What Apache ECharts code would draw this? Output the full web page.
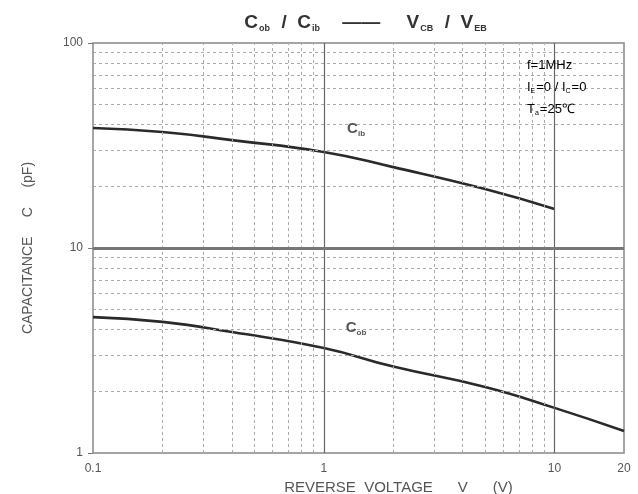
<!DOCTYPE html>
<html><head><meta charset="utf-8">
<script src="https://cdn.jsdelivr.net/npm/echarts@6/dist/echarts.min.js"></script>
<style>html,body{margin:0;padding:0;background:#fff}#c{width:638px;height:494px}</style>
</head><body><div id="c"></div>
<script>
// Data
const xCib = [0.1, 0.2, 0.4, 1, 2, 5, 10];
const cib  = [38.5, 36.8, 33.6, 29.4, 24.8, 19.4, 15.5];
const xCob = [0.1, 0.2, 0.4, 1, 2, 5, 10, 20];
const cob  = [4.6, 4.36, 3.89, 3.25, 2.64, 2.1, 1.66, 1.28];
const xMinor = [0.2,0.3,0.4,0.5,0.6,0.7,0.8,0.9,2,3,4,5,6,7,8,9];
const yMinor = [2,3,4,5,6,7,8,9,20,30,40,50,60,70,80,90];
const xMajor = [1, 10];
const yMajor = [10];

const font = '"Liberation Sans", Arial, sans-serif';
const chart = echarts.init(document.getElementById('c'));
const minorLines = [
  ...xMinor.map(v => ({xAxis: v})),
  ...yMinor.map(v => ({yAxis: v}))
];
chart.setOption({
  animation: false,
  backgroundColor: '#fff',
  title: {
    text: '{b|C}{s|ob}{b|  /  C}{s|ib}{b|    ——     V}{s|CB}{b|  /  V}{s|EB}',
    left: 361, top: 7, textAlign: 'center',
    textStyle: {
      rich: {
        b: {fontFamily: font, fontSize: 19, fontWeight: 'bold', color: '#333'},
        s: {fontFamily: font, fontSize: 9, fontWeight: 'bold', color: '#333', verticalAlign: 'bottom', padding: [12, 1, 0, 1]}
      }
    }
  },
  grid: {left: 93, right: 14, top: 43, bottom: 41, show: true, borderColor: '#888', borderWidth: 1.5,
    outerBoundsMode: 'none', containLabel: false},
  xAxis: {
    type: 'log', logBase: 10, min: 0.1, max: 20,
    name: 'REVERSE  VOLTAGE      V      (V)', nameLocation: 'middle', nameGap: 24,
    nameTextStyle: {fontFamily: font, fontSize: 15, color: '#555', padding: [0, 0, 0, 80]},
    axisLine: {show: false}, axisTick: {show: false}, splitLine: {show: false},
    axisLabel: {fontFamily: font, fontSize: 12, color: '#555', margin: 10, showMaxLabel: true, showMinLabel: true,
      formatter: v => String(Math.round(v * 10) / 10)}
  },
  yAxis: {
    type: 'log', logBase: 10, min: 1, max: 100,
    name: 'CAPACITANCE     C     (pF)', nameLocation: 'middle', nameGap: 58, nameRotate: 90,
    nameTextStyle: {fontFamily: font, fontSize: 14, color: '#555'},
    axisLine: {show: false}, axisTick: {show: true, length: 5, lineStyle: {color: '#777'}}, splitLine: {show: false},
    axisLabel: {fontFamily: font, fontSize: 12, color: '#555', margin: 10,
      formatter: v => String(Math.round(v))}
  },
  series: [
    {
      type: 'line', data: [], silent: true,
      markLine: {silent: true, symbol: 'none', label: {show: false},
        lineStyle: {color: '#aaa', width: 1, type: [3, 3]}, data: minorLines}
    },
    {
      type: 'line', data: [], silent: true,
      markLine: {silent: true, symbol: 'none', label: {show: false},
        lineStyle: {color: '#666', width: 1.2, type: 'solid'}, data: xMajor.map(v => ({xAxis: v}))}
    },
    {
      type: 'line', data: [], silent: true,
      markLine: {silent: true, symbol: 'none', label: {show: false},
        lineStyle: {color: '#777', width: 3, type: 'solid'}, data: yMajor.map(v => ({yAxis: v}))}
    },
    {
      name: 'Cib', type: 'line', smooth: true, showSymbol: false,
      lineStyle: {color: '#2a2a2a', width: 2.6},
      data: xCib.map((x, i) => [x, cib[i]]),
      markPoint: {symbol: 'circle', symbolSize: 0, data: [{coord: [1.38, 38]}],
        label: {show: true, position: 'inside', formatter: '{c|C}{s|ib}',
          rich: {c: {fontFamily: font, fontSize: 15, fontWeight: 'bold', color: '#555'},
                 s: {fontFamily: font, fontSize: 8, fontWeight: 'bold', color: '#555', verticalAlign: 'bottom', padding: [10, 0, 0, 0]}}}}
    },
    {
      name: 'Cob', type: 'line', smooth: true, showSymbol: false,
      lineStyle: {color: '#2a2a2a', width: 2.6},
      data: xCob.map((x, i) => [x, cob[i]]),
      markPoint: {symbol: 'circle', symbolSize: 0, data: [{coord: [1.38, 4.1]}],
        label: {show: true, position: 'inside', formatter: '{c|C}{s|ob}',
          rich: {c: {fontFamily: font, fontSize: 15, fontWeight: 'bold', color: '#555'},
                 s: {fontFamily: font, fontSize: 8, fontWeight: 'bold', color: '#555', verticalAlign: 'bottom', padding: [10, 0, 0, 0]}}}}
    }
  ],
  graphic: [
    {type: 'rect', left: 521, top: 56, shape: {width: 72, height: 72}, style: {fill: '#fff'}, z: 5},
    {type: 'text', left: 527, top: 59, z: 6, style: {
      text: '{n|f=1MHz}\n{n|I}{s|E}{n|=0 / I}{s|C}{n|=0}\n{n|T}{s|a}{n|=25℃}',
      rich: {n: {fontFamily: font, fontSize: 13, color: '#555', lineHeight: 22},
             s: {fontFamily: font, fontSize: 7, color: '#555', verticalAlign: 'bottom', padding: [0, 1, 4, 0]}}
    }}
  ]
});
</script></body></html>
